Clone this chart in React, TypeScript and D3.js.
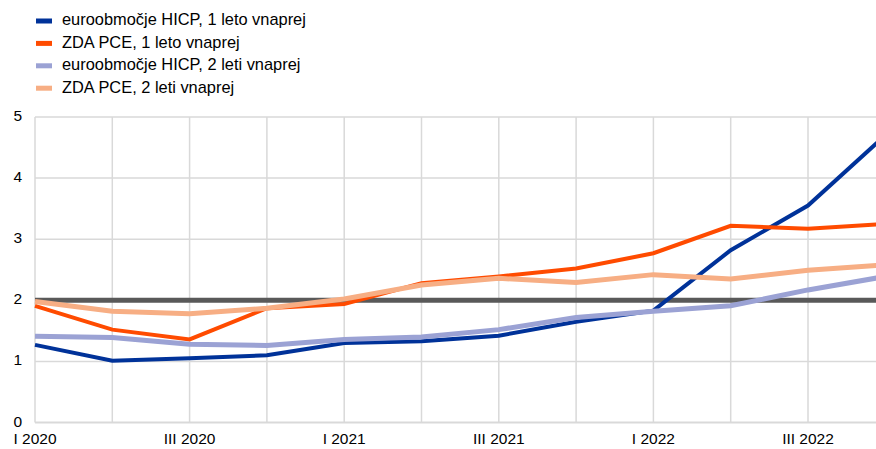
import React from "react";
import * as d3 from "d3";

const quarters = ["I 2020", "II 2020", "III 2020", "IV 2020", "I 2021", "II 2021", "III 2021", "IV 2021", "I 2022", "II 2022", "III 2022", "IV 2022"];
const tickLabels = ["I 2020", "", "III 2020", "", "I 2021", "", "III 2021", "", "I 2022", "", "III 2022", ""];
const hicp1 = [1.27, 1.01, 1.05, 1.10, 1.30, 1.33, 1.42, 1.65, 1.83, 2.82, 3.55, 4.70];
const pce1 = [1.91, 1.52, 1.36, 1.87, 1.94, 2.28, 2.39, 2.52, 2.77, 3.22, 3.17, 3.25];
const hicp2 = [1.41, 1.39, 1.28, 1.26, 1.36, 1.40, 1.52, 1.72, 1.82, 1.91, 2.17, 2.39];
const pce2 = [1.98, 1.82, 1.78, 1.87, 2.02, 2.25, 2.36, 2.29, 2.42, 2.35, 2.49, 2.58];
const yTicks = [0, 1, 2, 3, 4, 5];
const target = 2;

const series = [
  { name: "euroobmočje HICP, 1 leto vnaprej", values: hicp1, color: "#003299", width: 4 },
  { name: "ZDA PCE, 1 leto vnaprej", values: pce1, color: "#FF4B00", width: 4 },
  { name: "euroobmočje HICP, 2 leti vnaprej", values: hicp2, color: "#9BA2D4", width: 5 },
  { name: "ZDA PCE, 2 leti vnaprej", values: pce2, color: "#F7AE84", width: 5 },
];

export default function App() {
  const W = 876, H = 449;
  const left = 35, right = 876, top = 117, bottom = 422.5;
  const step = 77.3;
  const x = d3.scaleLinear().domain([0, quarters.length - 1]).range([left, left + step * (quarters.length - 1)]);
  const y = d3.scaleLinear().domain([0, 5]).range([bottom, top]);
  const line = d3.line<number>().x((_, i) => x(i)).y((d) => y(d));
  const font = "Arial, 'Liberation Sans', sans-serif";
  const gridIdx = d3.range(quarters.length).filter((i) => x(i) <= right);

  return (
    <svg width={W} height={H} style={{ position: "absolute", left: 0, top: 0, background: "#fff" }} fontFamily={font}>
      <defs>
        <clipPath id="plotclip">
          <rect x={left - 5} y={0} width={right - left + 5} height={H} />
        </clipPath>
      </defs>
      {/* legend */}
      {series.map((s, i) => (
        <g key={s.name} transform={`translate(0, ${21 + i * 22.4})`}>
          <rect x={36} y={-2.5} width={16} height={5} fill={s.color} />
          <text x={62} y={0} dominantBaseline="middle" fontSize={16.4} fill="#000">{s.name}</text>
        </g>
      ))}
      {/* grid */}
      {yTicks.map((t) => (
        <line key={"h" + t} x1={left} x2={right} y1={y(t)} y2={y(t)} stroke="#d9d9d9" strokeWidth={t === 0 ? 2 : 1.5} />
      ))}
      {gridIdx.map((i) => (
        <line key={"v" + i} x1={x(i)} x2={x(i)} y1={top} y2={bottom} stroke="#d9d9d9" strokeWidth={1.5} />
      ))}
      {yTicks.map((t) => (
        <text key={"yl" + t} x={22} y={y(t)} textAnchor="end" dominantBaseline="middle" fontSize={15.5} fill="#000">{t}</text>
      ))}
      {tickLabels.map((l, i) => l ? (
        <text key={"xl" + i} x={x(i)} y={440} textAnchor="middle" dominantBaseline="middle" fontSize={15.5} fill="#000">{l}</text>
      ) : null)}
      <g clipPath="url(#plotclip)">
        <line x1={left} x2={right} y1={y(target)} y2={y(target)} stroke="#595959" strokeWidth={5} />
        {series.map((s) => (
          <path key={s.name} d={line(s.values) || ""} fill="none" stroke={s.color} strokeWidth={s.width} strokeLinejoin="miter" />
        ))}
      </g>
    </svg>
  );
}
